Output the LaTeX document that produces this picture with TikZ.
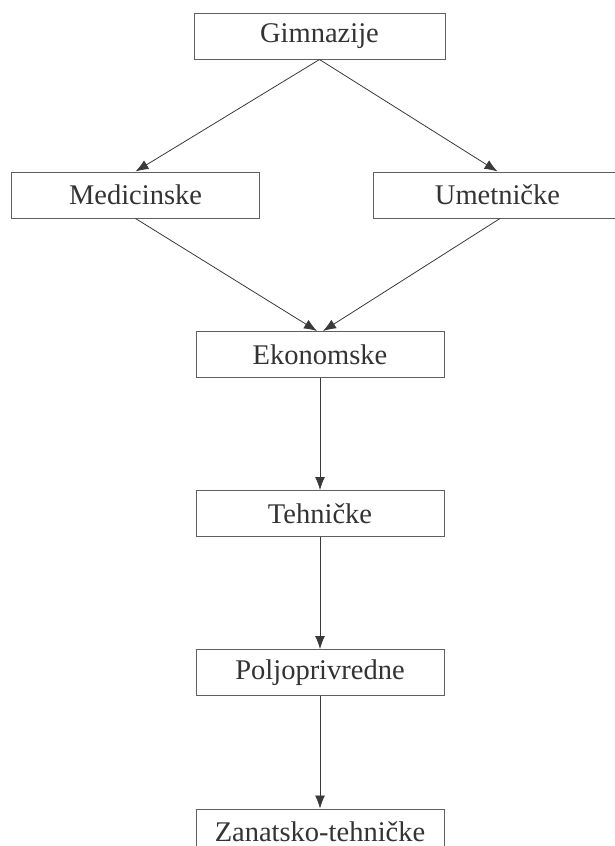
\documentclass[tikz,border=0pt]{standalone}
\usepackage{fontspec}
\setmainfont{Liberation Serif}
\usetikzlibrary{arrows.meta}
\definecolor{boxline}{HTML}{606060}
\definecolor{txt}{HTML}{333333}
\definecolor{arr}{HTML}{3A3A3A}
\begin{document}
\begin{tikzpicture}[x=1pt,y=-1pt,
  box/.style={draw=boxline, line width=1pt, rectangle, minimum width=248pt, minimum height=46pt, inner sep=0pt, text=txt, font=\fontsize{28.5}{31}\selectfont},
  conn/.style={draw=arr, line width=0.8pt, -{Latex[length=13pt,width=10pt]}}]
\useasboundingbox (0,0) rectangle (615,846);
\clip (0,0) rectangle (615,846);
\fill[white] (0,0) rectangle (615,846);
\node[box, minimum width=251pt] (g) at (319.5,36) {Gimnazije};
\node[box] (m) at (135.5,195) {Medicinske};
\node[box] (u) at (497.5,195) {Umetničke};
\node[box] (e) at (320,354.5) {Ekonomske};
\node[box] (t) at (320,513.5) {Tehničke};
\node[box] (p) at (320,672.5) {Poljoprivredne};
\node[box] (z) at (320,832) {Zanatsko-tehničke};
\draw[conn] (g.south) -- (m.north);
\draw[conn] (g.south) -- (u.north);
\draw[conn] (m.south) -- ([xshift=-3pt]e.north);
\draw[conn] ([xshift=2.5pt]u.south) -- ([xshift=3pt]e.north);
\draw[conn] (e.south) -- (t.north);
\draw[conn] (t.south) -- (p.north);
\draw[conn] (p.south) -- (z.north);
\end{tikzpicture}
\end{document}
